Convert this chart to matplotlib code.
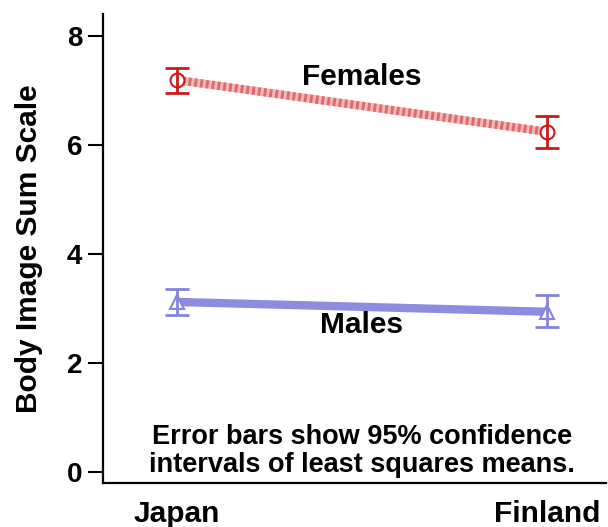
import matplotlib
matplotlib.use("Agg")
import matplotlib.pyplot as plt

countries = ["Japan", "Finland"]
female_means = [7.19, 6.24]
female_lo = [6.95, 5.94]
female_hi = [7.41, 6.53]
male_means = [3.12, 2.94]
male_lo = [2.88, 2.66]
male_hi = [3.36, 3.25]
yticks = [0, 2, 4, 6, 8]

plt.rcParams['font.family'] = ['Liberation Sans', 'DejaVu Sans']
plt.rcParams['font.weight'] = 'bold'

fig = plt.figure(figsize=(6.08, 5.27), dpi=100)
ax = fig.add_axes([0.1694, 0.0835, 0.8273, 0.8899])
x = list(range(len(countries)))

red = '#CC1A1A'
blue = '#8484DC'

# Females line (textured)
ax.plot(x, female_means, color='#F4B8B8', lw=6, solid_capstyle='butt', zorder=2)
ax.plot(x, female_means, color='#E06A6A', lw=6, dashes=(0.35, 0.35), zorder=2.1)
# Males line
ax.plot(x, male_means, color='#8C8CE0', lw=6, solid_capstyle='butt', zorder=2)

ferr = [[m - l for m, l in zip(female_means, female_lo)],
        [h - m for m, h in zip(female_means, female_hi)]]
merr = [[m - l for m, l in zip(male_means, male_lo)],
        [h - m for m, h in zip(male_means, male_hi)]]

ax.plot(x, female_means, 'o', ms=10, mfc='white', mec=red, mew=1.5, ls='none', zorder=3)
ax.errorbar(x, female_means, yerr=ferr, fmt='none', ecolor=red, elinewidth=2,
            capsize=8.5, capthick=2, zorder=4)
ax.plot(x, male_means, '^', ms=10, mfc='white', mec=blue, mew=1.5, ls='none', zorder=3)
ax.errorbar(x, male_means, yerr=merr, fmt='none', ecolor=blue, elinewidth=2,
            capsize=8.5, capthick=2, zorder=4)

ax.set_xlim(-0.2, 1.16)
ax.set_ylim(-0.2, 8.40)
ax.set_yticks(yticks)
ax.set_yticklabels([str(t) for t in yticks], fontsize=20, fontweight='bold')
ax.set_xticks(x)
ax.set_xticklabels(countries, fontsize=21.5, fontweight='bold')
ax.tick_params(axis='y', length=11, width=1.5, pad=4)
ax.tick_params(axis='x', length=0, pad=12)
for s in ['top', 'right']:
    ax.spines[s].set_visible(False)
for s in ['left', 'bottom']:
    ax.spines[s].set_linewidth(1.6)

ax.set_ylabel("Body Image Sum Scale", fontsize=21.5, fontweight='bold', labelpad=17)

ax.text(0.5, 7.25, "Females", fontsize=21.5, fontweight='bold', ha='center', va='center')
ax.text(0.5, 2.70, "Males", fontsize=21.5, fontweight='bold', ha='center', va='center')
ax.text(0.5, 0.39, "Error bars show 95% confidence\nintervals of least squares means.",
        fontsize=19.5, fontweight='bold', ha='center', va='center', linespacing=1.1)

fig.savefig("out.png", dpi=100)
